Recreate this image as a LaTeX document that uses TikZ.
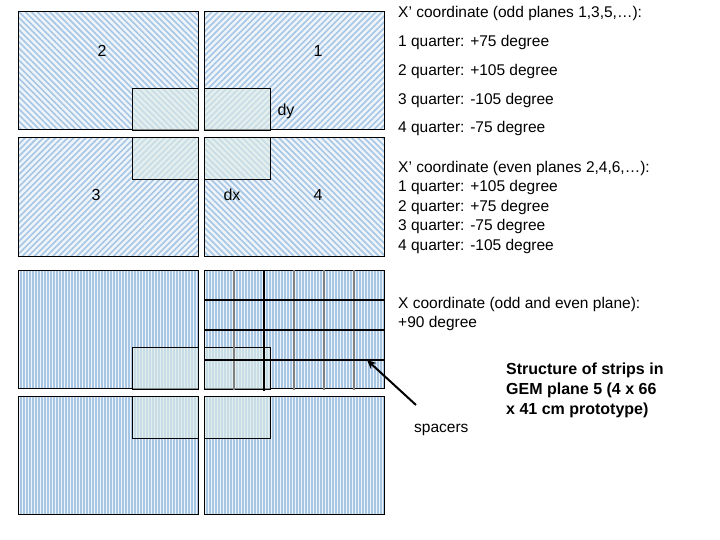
\documentclass[tikz,border=0pt]{standalone}
\usepackage{fontspec}
\setmainfont{Liberation Sans}
\usetikzlibrary{patterns.meta,arrows.meta}
\definecolor{bgc}{HTML}{EEF4FA}
\definecolor{stc}{HTML}{A6C6E4}
\definecolor{boxc}{HTML}{DDEBE6}
\tikzset{
 quad/.style={draw=black,line width=1pt,preaction={fill=bgc}},
 hA/.style={quad,pattern={Lines[angle=45,distance=4.3pt,line width=1.6pt]},pattern color=stc},
 hB/.style={quad,pattern={Lines[angle=-45,distance=4.3pt,line width=1.6pt]},pattern color=stc},
 hV/.style={quad,pattern={Lines[angle=90,distance=3pt,line width=1.4pt]},pattern color=stc},
 ov/.style={draw=black,line width=1pt,fill=boxc,fill opacity=0.6},
 lab/.style={font=\fontsize{15.5}{19.5}\selectfont,anchor=north west,inner sep=0pt,align=left},
 num/.style={font=\fontsize{16}{19}\selectfont},
 spg/.style={draw=gray,line width=2pt},
 spb/.style={draw=black,line width=2pt}
}
\begin{document}
\begin{tikzpicture}[x=1pt,y=-1pt]
\useasboundingbox[fill=white] (0,0) rectangle (720,540);
% upper set
\draw[hB] (18,12) rectangle (198,130);
\draw[hA] (204,12) rectangle (384,130);
\draw[hA] (18,138) rectangle (198,256);
\draw[hB] (204,138) rectangle (384,256);
\draw[ov] (132,89) rectangle (198,131);
\draw[ov] (204,89) rectangle (270,131);
\draw[ov] (132,138) rectangle (198,180);
\draw[ov] (204,138) rectangle (270,180);
\node[num] (n2) at (102,51) {2};
\node[num] (n1) at (318,51) {1};
\node[num] (n3) at (96,195) {3};
\node[num] (n4) at (318,195) {4};
\node[num] (dy) at (286,111) {dy};
\node[num] (dx) at (232,195) {dx};
% lower set
\draw[hV] (18,270) rectangle (198,388);
\draw[hV] (204,270) rectangle (384,388);
\draw[hV] (18,396) rectangle (198,514);
\draw[hV] (204,396) rectangle (384,514);
\draw[ov] (132,347) rectangle (198,389);
\draw[ov] (204,347) rectangle (270,389);
\draw[ov] (132,396) rectangle (198,438);
\draw[ov] (204,396) rectangle (270,438);
% spacers
\foreach \x in {234,294,324,354} \draw[spg] (\x,270) -- (\x,390);
\draw[spb] (264,270) -- (264,391);
\foreach \y in {300,330,360} \draw[spb] (204,\y) -- (384,\y);
\coordinate (sp) at (367,360);
\node[lab] (spacers) at (414,424) {spacers};
\coordinate (a0) at (416,405);
\draw[line width=2pt,-{Stealth[length=9pt,width=8pt]}] (a0) -- (sp);
% texts
\node[lab] (t1) at (398,6) {X' coordinate (odd planes 1,3,5,\ldots):};
\node[lab] (t2) at (398,35) {1 quarter: +75 degree};
\node[lab] (t3) at (398,64) {2 quarter: +105 degree};
\node[lab] (t4) at (398,93) {3 quarter: -105 degree};
\node[lab] (t5) at (398,121) {4 quarter: -75 degree};
\node[lab] (t6) at (398,161) {X' coordinate (even planes 2,4,6,\ldots):\\1 quarter: +105 degree\\2 quarter: +75 degree\\3 quarter: -75 degree\\4 quarter: -105 degree};
\node[lab] (t7) at (398,297) {X coordinate (odd and even plane):\\+90 degree};
\node[lab,font=\bfseries\fontsize{16}{20}\selectfont] (t8) at (506,363) {Structure of strips in\\GEM plane 5 (4 x 66\\x 41 cm prototype)};
\end{tikzpicture}
\end{document}
